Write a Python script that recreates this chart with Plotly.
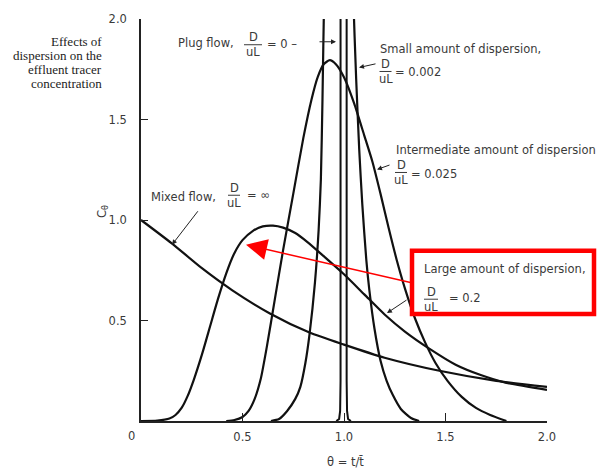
import plotly.graph_objects as go

# ---------------- data ----------------
theta_mixed = [0.0, 0.15, 0.30, 0.45, 0.635, 0.83, 1.0, 1.2, 1.47, 1.75, 2.0]
c_mixed = [1.0, 0.885, 0.76, 0.65, 0.535, 0.44, 0.38, 0.315, 0.25, 0.20, 0.17]

theta_large = [0.0, 0.08, 0.14, 0.17, 0.20, 0.23, 0.26, 0.30, 0.34, 0.38, 0.42, 0.46,
               0.50, 0.55, 0.60, 0.65, 0.70, 0.76, 0.82, 0.90, 1.00, 1.10, 1.20,
               1.30, 1.42, 1.55, 1.67, 1.80, 2.00]
c_large = [0.0, 0.002, 0.012, 0.03, 0.065, 0.125, 0.205, 0.33, 0.47, 0.61, 0.735, 0.835,
           0.90, 0.945, 0.968, 0.972, 0.962, 0.935, 0.89, 0.82, 0.73, 0.63, 0.53,
           0.445, 0.36, 0.28, 0.23, 0.19, 0.155]

theta_inter = [0.42, 0.46, 0.50, 0.53, 0.56, 0.59, 0.62, 0.66, 0.70, 0.75, 0.80, 0.84,
               0.87, 0.90, 0.93, 0.96, 1.00, 1.05, 1.10, 1.14, 1.18, 1.22, 1.26, 1.30,
               1.35, 1.40, 1.45, 1.51, 1.58, 1.65, 1.72, 1.80]
c_inter = [0.0, 0.005, 0.02, 0.05, 0.11, 0.21, 0.37, 0.61, 0.85, 1.13, 1.41, 1.60,
           1.71, 1.775, 1.795, 1.775, 1.71, 1.58, 1.42, 1.29, 1.13, 0.96, 0.80, 0.66,
           0.51, 0.39, 0.29, 0.20, 0.12, 0.065, 0.03, 0.0]

theta_small = [0.64, 0.68, 0.72, 0.76, 0.785, 0.81, 0.83, 0.857, 0.875, 0.886, 0.894,
               0.902, 0.93, 0.975, 1.02, 1.046, 1.06, 1.075, 1.09, 1.11, 1.125, 1.15,
               1.18, 1.21, 1.24, 1.28, 1.33, 1.37]
c_small = [0.0, 0.01, 0.05, 0.11, 0.17, 0.29, 0.43, 0.69, 0.95, 1.2, 1.6,
           2.1, 3.2, 3.8, 3.2, 2.1, 1.7, 1.35, 1.08, 0.8, 0.65, 0.46,
           0.30, 0.20, 0.13, 0.06, 0.015, 0.0]

theta_plug = [0.962, 0.976, 0.981, 0.983, 0.983, 1.013, 1.013, 1.015, 1.020, 1.034]
c_plug = [0.0, 0.01, 0.05, 0.2, 2.3, 2.3, 0.2, 0.05, 0.01, 0.0]

x_ticks = [0.5, 1.0, 1.5, 2.0]
x_ticktext = ["0.5", "1.0", "1.5", "2.0"]
y_ticks = [0.5, 1.0, 1.5, 2.0]
y_ticktext = ["0.5", "1.0", "1.5", "2.0"]
origin_label = "0"

# ---------------- layout helpers ----------------
W, H = 598, 469
L, R, T, B = 141, 51, 15, 48
PW = W - L - R
PH = H - T - B


def px(x):
    return (x - L) / PW


def py(y):
    return (H - B - y) / PH


TXT = "#3a3a3a"
FONT = "DejaVu Sans"
FS = 11.5

fig = go.Figure()
line = dict(color="#111111", width=2.2, shape="spline", smoothing=0.6)
for tx, cy in [(theta_mixed, c_mixed), (theta_large, c_large),
               (theta_inter, c_inter), (theta_small, c_small)]:
    fig.add_trace(go.Scatter(x=tx, y=cy, mode="lines", line=line,
                             hoverinfo="skip", showlegend=False))
fig.add_trace(go.Scatter(x=theta_plug, y=c_plug, mode="lines",
                         line=dict(color="#111111", width=2),
                         hoverinfo="skip", showlegend=False))

annotations = []
shapes = []


def text(s, x, y, xa="left", ya="middle", size=FS, family=FONT, color=TXT, **kw):
    annotations.append(dict(text=s, x=px(x), y=py(y), xref="paper", yref="paper",
                            xanchor=xa, yanchor=ya, showarrow=False,
                            font=dict(size=size, family=family, color=color), **kw))


def frac(cx, cy, halfw):
    text("D", cx, cy - 7.5, xa="center")
    text("uL", cx, cy + 7.5, xa="center")
    shapes.append(dict(type="line", xref="paper", yref="paper",
                       x0=px(cx - halfw), x1=px(cx + halfw), y0=py(cy), y1=py(cy),
                       line=dict(color=TXT, width=1)))


def arrow(tipx, tipy, tailx, taily, color="#222222", width=1, size=1.0, head=2):
    annotations.append(dict(text="", x=px(tipx), y=py(tipy), xref="paper", yref="paper",
                            ax=tailx - tipx, ay=taily - tipy, showarrow=True,
                            arrowhead=head, arrowsize=size, arrowwidth=width,
                            arrowcolor=color))


# left description
for s, yy in [("Effects of", 38), ("dispersion on the", 52),
              ("effluent tracer", 66), ("concentration", 80)]:
    text(s, 104, yy, xa="right", size=13, family="Liberation Serif", color="#222222")
# y axis label
text("C<sub>θ</sub>", 102, 210, xa="center", textangle=-90)
# x axis title
text("θ = t/t\u0304", 345, 462, xa="center")
# origin label
text(origin_label, 131, 436, xa="center")

# plug flow
text("Plug flow,", 176, 39)
frac(253, 41, 9)
text("= 0 –", 265, 40)
arrow(336, 38, 318, 38)

# small
text("Small amount of dispersion,", 378, 45)
frac(385.5, 68, 6)
text("= 0.002", 393, 69)
arrow(359, 64, 377, 60)

# intermediate
text("Intermediate amount of dispersion", 394, 147)
frac(401, 170, 6)
text("= 0.025", 409, 172)
arrow(377, 167, 391, 162)

# mixed
text("Mixed flow,", 149, 195)
frac(234, 193, 6)
text("= ∞", 245, 193)
arrow(172, 243, 199, 208)

# large
text("Large amount of dispersion,", 422, 267)
frac(431, 298, 7)
text("= 0.2", 447, 297)
arrow(387, 312, 408, 298)

# red highlight
shapes.append(dict(type="rect", xref="paper", yref="paper",
                   x0=px(412), x1=px(594), y0=py(313), y1=py(249),
                   line=dict(color="#ff0000", width=4.5)))
arrow(246, 243, 412, 281, color="#ff0000", width=1.5, size=2.8, head=2)

axis_common = dict(range=[0, 2], showline=True, linecolor="#222222", linewidth=1.6,
                   ticks="inside", tickcolor="#222222", tickwidth=1.2,
                   showgrid=False, zeroline=False,
                   tickfont=dict(family=FONT, size=FS, color=TXT))

fig.update_layout(
    width=W, height=H,
    margin=dict(l=L, r=R, t=T, b=B),
    paper_bgcolor="white", plot_bgcolor="white",
    xaxis=dict(tickvals=x_ticks, ticktext=x_ticktext, ticklen=8,
               ticklabelstandoff=4, **axis_common),
    yaxis=dict(tickvals=y_ticks, ticktext=y_ticktext, ticklen=7,
               ticklabelstandoff=10, **axis_common),
    annotations=annotations,
    shapes=shapes,
)

fig.write_html("out.html")
